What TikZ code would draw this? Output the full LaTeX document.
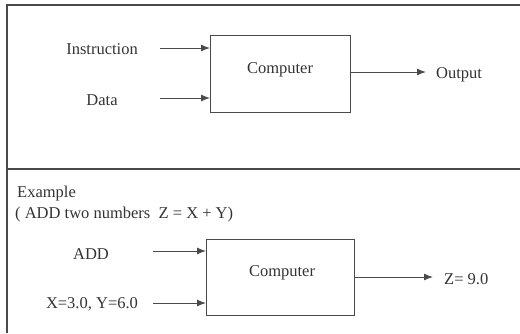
\documentclass[tikz,border=0pt]{standalone}
\usepackage{fontspec}
\setmainfont{Liberation Serif}
\usetikzlibrary{arrows.meta}
\definecolor{ink}{HTML}{333333}
\definecolor{rule}{HTML}{4A4A4A}
\tikzset{
  lbl/.style={text=ink, font=\fontsize{16.5}{18}\selectfont, inner sep=0pt, anchor=center},
  unitbox/.style={draw=rule, line width=1pt, inner sep=0pt},
  flow/.style={draw=rule, line width=1pt, -{Latex[length=9pt,width=7pt]}},
  frame/.style={draw=rule, line width=1.2pt}
}
\begin{document}
\begin{tikzpicture}[x=1pt,y=-1pt]
  \useasboundingbox (0,0) rectangle (520,333);
  % panel frame
  \draw[frame] (7,333) -- (7,5) -- (520,5);
  \draw[frame] (7,169) -- (520,169);

  % upper panel: general model
  \node[unitbox, minimum width=140pt, minimum height=77pt] (cpu1) at (280,73.5) {};
  \node[lbl] (comp1) at (280,70) {Computer};
  \node[lbl] (instr) at (102,49) {Instruction};
  \node[lbl] (data) at (102,100) {Data};
  \node[lbl, anchor=west] (out) at (436,75) {Output};
  \coordinate (i0) at (160,48);
  \coordinate (i1) at (210,48);
  \coordinate (d0) at (160,98);
  \coordinate (d1) at (210,98);
  \coordinate (o1) at (426,72);
  \draw[flow] (i0) -- (i1);
  \draw[flow] (d0) -- (d1);
  \draw[flow] (cpu1.east |- o1) -- (o1);

  % lower panel: worked example
  \node[lbl, anchor=west] (ex) at (17,194) {Example};
  \node[lbl, anchor=west] (eq) at (15,215) {( ADD two numbers~~Z = X + Y)};
  \node[unitbox, minimum width=148pt, minimum height=76pt] (cpu2) at (280,277) {};
  \node[lbl] (comp2) at (282,273) {Computer};
  \node[lbl] (add) at (91,254) {ADD};
  \node[lbl] (xy) at (92,304) {X=3.0, Y=6.0};
  \node[lbl, anchor=west] (res) at (444,279) {Z= 9.0};
  \coordinate (a0) at (153,251);
  \coordinate (a1) at (206,251);
  \coordinate (x0) at (153,303);
  \coordinate (x1) at (206,303);
  \coordinate (r1) at (433,277);
  \draw[flow] (a0) -- (a1);
  \draw[flow] (x0) -- (x1);
  \draw[flow] (cpu2.east |- r1) -- (r1);
\end{tikzpicture}
\end{document}
